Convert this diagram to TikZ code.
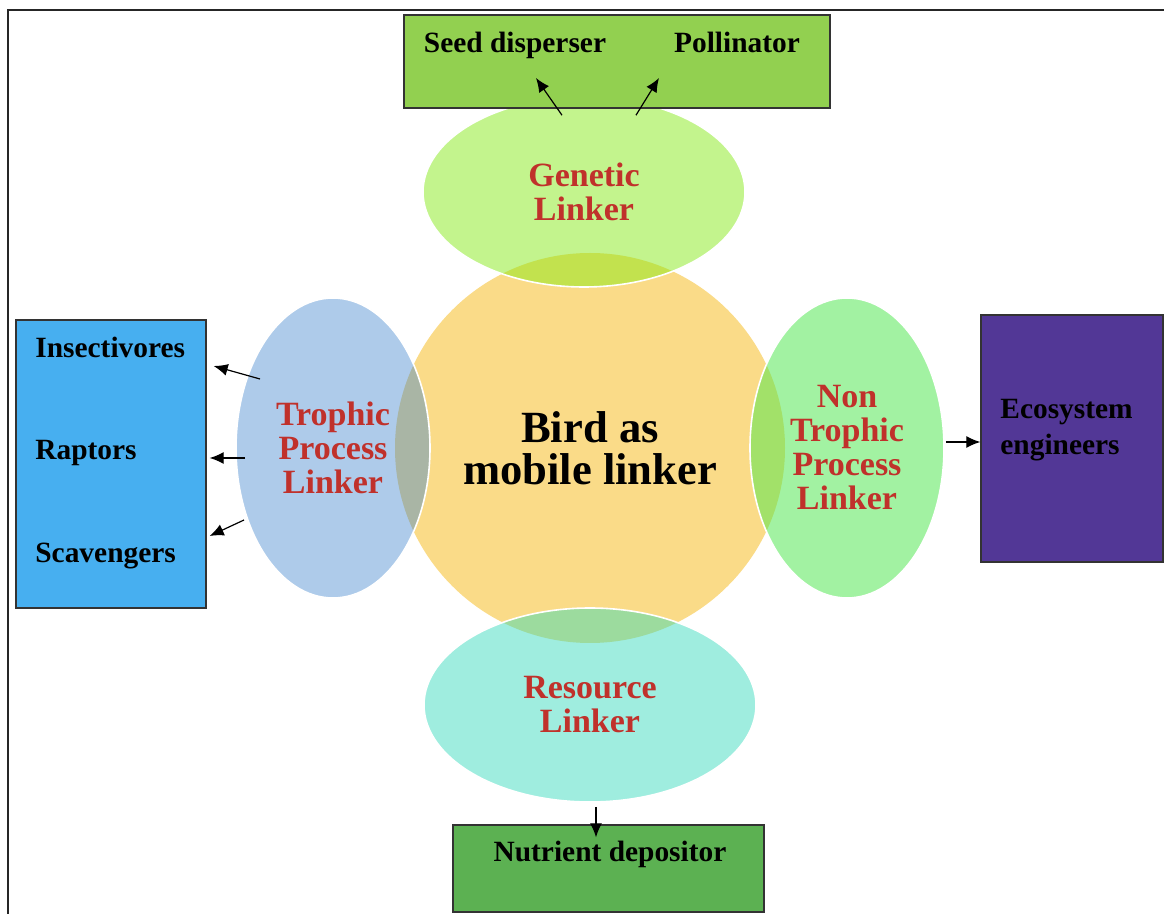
\documentclass[tikz,border=0pt]{standalone}
\usepackage{fontspec}
\setmainfont{Liberation Serif}
\usetikzlibrary{shapes.geometric,arrows.meta}
\definecolor{circfill}{HTML}{FADB88}
\definecolor{genfill}{HTML}{C3F48D}
\definecolor{trofill}{HTML}{AECBEA}
\definecolor{ntfill}{HTML}{A2F2A2}
\definecolor{resfill}{HTML}{9FEDDF}
\definecolor{genov}{HTML}{C2E24E}
\definecolor{troov}{HTML}{A9B5A5}
\definecolor{ntov}{HTML}{A2E169}
\definecolor{resov}{HTML}{9CDB9E}
\definecolor{topgreen}{HTML}{92D050}
\definecolor{leftblue}{HTML}{47AFF0}
\definecolor{ecopurple}{HTML}{523796}
\definecolor{botgreen}{HTML}{5CB152}
\definecolor{redtxt}{HTML}{C0312B}
\begin{document}
\begin{tikzpicture}[x=0.5pt,y=-0.5pt,
  frame/.style={draw=black!85,line width=1.1pt},
  linkell/.style={ellipse,draw=white,line width=0.8pt,inner sep=0pt,align=center,
    text=redtxt,font=\fontsize{17}{17}\selectfont\bfseries},
  boxnode/.style={rectangle,draw=black!80,line width=0.7pt,inner sep=0pt},
  lbl/.style={inner sep=0pt,anchor=base,font=\fontsize{14.7}{18}\selectfont\bfseries},
  arr/.style={-{Latex[length=7pt,width=6pt]},line width=0.6pt}]
\useasboundingbox (0,0) rectangle (1164,914);
\draw[frame] (8,914) -- (8,10) -- (1164,10);
% fills
\fill[circfill] (590,448) circle [radius=195];
\fill[genfill] (584,192) ellipse [x radius=161, y radius=95];
\fill[trofill] (333,448) ellipse [x radius=97, y radius=150];
\fill[ntfill] (847,448) ellipse [x radius=97, y radius=150];
\fill[resfill] (590,705) ellipse [x radius=166, y radius=97];
% overlaps
\begin{scope}
\clip (584,192) ellipse [x radius=161, y radius=95];
\fill[genov] (590,448) circle [radius=195];
\end{scope}
\begin{scope}
\clip (333,448) ellipse [x radius=97, y radius=150];
\fill[troov] (590,448) circle [radius=195];
\end{scope}
\begin{scope}
\clip (847,448) ellipse [x radius=97, y radius=150];
\fill[ntov] (590,448) circle [radius=195];
\end{scope}
\begin{scope}
\clip (590,705) ellipse [x radius=166, y radius=97];
\fill[resov] (590,448) circle [radius=195];
\end{scope}
% nodes of the linker shapes
\node[circle,minimum size=195pt,inner sep=0pt,align=center,
  font=\fontsize{22.3}{21}\selectfont\bfseries] (bird) at (590,448) {Bird as\\mobile linker};
\node[linkell,minimum width=161pt,minimum height=95pt] (gen) at (584,192) {Genetic\\Linker};
\node[linkell,minimum width=97pt,minimum height=150pt] (tro) at (333,448) {Trophic\\Process\\Linker};
\node[linkell,minimum width=97pt,minimum height=150pt] (nt) at (847,448) {Non\\Trophic\\Process\\Linker};
\node[linkell,minimum width=166pt,minimum height=97pt] (res) at (590,705) {Resource\\Linker};
% boxes
\node[boxnode,fill=topgreen,minimum width=213pt,minimum height=46.5pt] (topbox) at (617,61.5) {};
\node[boxnode,fill=leftblue,minimum width=95pt,minimum height=144pt] (leftbox) at (111,464) {};
\node[boxnode,fill=ecopurple,minimum width=91pt,minimum height=123.5pt] (ecobox) at (1072,438.5) {};
\node[boxnode,fill=botgreen,minimum width=155.5pt,minimum height=43.5pt] (nutbox) at (608.5,868.5) {};
% box labels
\node[lbl] (seed) at (515,53) {Seed disperser};
\node[lbl] (poll) at (737,53) {Pollinator};
\node[lbl,anchor=base west] (ins) at (35,358) {Insectivores};
\node[lbl,anchor=base west] (rap) at (35,460) {Raptors};
\node[lbl,anchor=base west] (sca) at (35,563) {Scavengers};
\node[lbl,anchor=base west,align=left] (eco) at (1000,455) {Ecosystem\\engineers};
\node[lbl] (nut) at (610,862) {Nutrient depositor};
% connectors
\draw[arr] ([shift={(-22,19)}]gen.north) -- ([shift={(21,25)}]seed.base);
\draw[arr] ([shift={(52,19)}]gen.north) -- ([shift={(-78,25)}]poll.base);
\draw[arr] ([shift={(-73,-69)}]tro.center) -- ([shift={(7,-98)}]leftbox.east);
\draw[arr] ([shift={(-88,10)}]tro.center) -- ([shift={(3,-6)}]leftbox.east);
\draw[arr] ([shift={(-89,72)}]tro.center) -- ([shift={(3,72)}]leftbox.east);
\draw[arr] ([shift={(1,-6)}]nt.east) -- ([shift={(0,3.5)}]ecobox.west);
\draw[arr] ([shift={(6,4)}]res.south) -- ([shift={(-12.5,13)}]nutbox.north);
\end{tikzpicture}
\end{document}
